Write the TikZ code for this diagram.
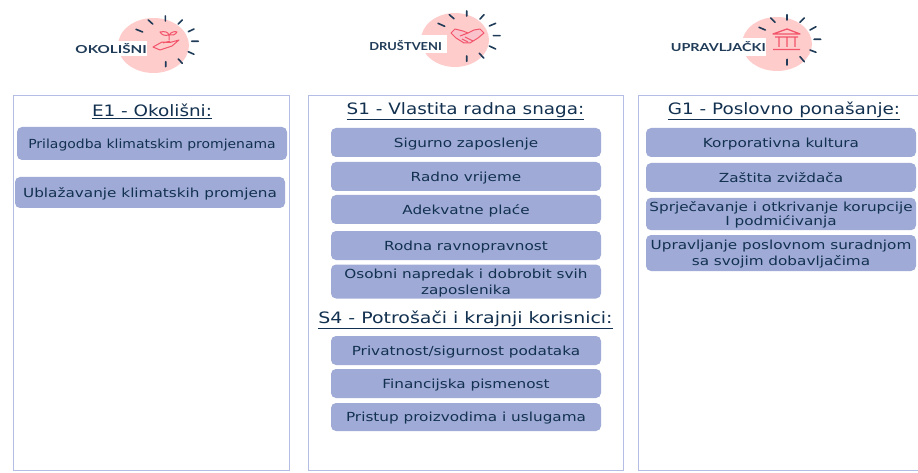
\documentclass[tikz,border=0pt]{standalone}
\usepackage{fontspec}
\setmainfont{DejaVu Sans}
\newfontfamily\itemf[FakeStretch=1.22]{DejaVu Sans}
\newfontfamily\headf[FakeStretch=1.17]{DejaVu Sans}
\newfontfamily\catf[FakeStretch=1.17]{Lato}
\usetikzlibrary{calc,shapes.geometric}
\definecolor{txt}{HTML}{12304F}
\definecolor{pill}{HTML}{9FABD6}
\definecolor{panelb}{HTML}{B4BEE4}
\definecolor{pinkc}{HTML}{FFCCCC}
\definecolor{iconr}{HTML}{F2546A}
\definecolor{tick}{HTML}{1F3B57}
\tikzset{
  x=1pt,y=-1pt,
  panel/.style={draw=panelb,line width=1pt,fill=white},
  item/.style={fill=pill,rounded corners=5pt,text=txt,font=\itemf\fontsize{12.5}{14}\selectfont,inner sep=0pt},
  head/.style={text=txt,font=\headf\fontsize{15.7}{18}\selectfont,inner sep=0pt},
  cat/.style={fill=white,text=tick,font=\catf\fontsize{11}{12}\selectfont\bfseries,inner sep=0pt,anchor=east},
  disc/.style={fill=pinkc,draw=none,ellipse,inner sep=0pt},
  ticks/.style={draw=tick,line width=1.6pt,line cap=round},
  ico/.style={draw=iconr,line width=1pt,line join=round,fill=none}
}
\newcommand{\itembox}[6]{% name x1 y1 x2 y2 text
  \node[item,minimum width=#4pt-#2pt,minimum height=#5pt-#3pt] (#1) at ({(#2+#4)/2},{(#3+#5)/2}) {\vbox{\kern4pt\hbox{\begin{tabular}{@{}c@{}}#6\end{tabular}}}};}
\begin{document}
\begin{tikzpicture}
\useasboundingbox (0,0) rectangle (918,473);
% category badges
\node[disc,minimum width=71pt,minimum height=55pt] (d1) at (153.5,45.5) {};
\draw[ticks] (136,29.3) -- (142.7,32) (148.3,20) -- (152.7,24) (165.3,16) -- (165.3,21) (182.3,20) -- (178.3,24) (194,29) -- (188.3,31.7) (191.7,41.3) -- (198.3,41.3) (188.3,51.7) -- (194,54.3) (178.3,59) -- (182.3,63.3) (165.7,61.7) -- (165.7,66.7);
\node[cat,minimum height=15pt] (c1) at (147,48.3) {\hspace{1pt}\scalebox{1.18}[1]{OKOLIŠNI}\hspace{11pt}};
\draw[ico] (153,47) -- (162,42) -- (170,42.5) -- (179,40) -- (172,46) -- (160,50) -- cycle (163,43) -- (170,41) (169,40) -- (169,35) (169,35) .. controls (164,36) and (162,35) .. (160,32) .. controls (165,31) and (168,32) .. (169,35) .. controls (171,32) and (175,31) .. (177,32) .. controls (175,35) and (172,36) .. (169,35);
\node[disc,minimum width=68pt,minimum height=54pt] (d2) at (455,40) {};
\draw[ticks] (438,23.3) -- (444.7,26.3) (449.3,14.7) -- (454,18.7) (466.7,11) -- (466.7,16) (484,14.7) -- (480,19) (495.7,23.3) -- (489.3,26) (493.3,35.7) -- (500,35.7) (489.3,46) -- (495.7,49) (479.3,53.3) -- (483.7,58) (466.7,56) -- (466.7,61.3);
\node[cat,minimum height=18pt] (c2) at (447,44) {\vbox{\kern4pt\hbox{\hspace{1pt}DRUŠTVENI\hspace{5pt}}}};
\draw[ico,fill=iconr!35] (451,33) -- (455,29) -- (463,31) -- (468,33) -- (474,30) -- (480,29) -- (484,33) -- (478,38) -- (470,43) -- (464,43) -- (456,38) -- cycle;
\draw[ico] (460,36) -- (468,33) (465,37) -- (473,41) (462,39) -- (468,42);
\node[disc,minimum width=70pt,minimum height=54pt] (d3) at (777,44) {};
\draw[ticks] (759,27.3) -- (765.3,30) (770.7,18) -- (775,22.3) (787,14.7) -- (787,20) (804.3,18) -- (800,22.3) (816,26.7) -- (810,30) (814,39.3) -- (820.7,39.3) (810,50) -- (816,52.3) (800,56.7) -- (804.3,61.7) (787,59.3) -- (787,65);
\node[cat,minimum height=18pt] (c3) at (766,46.8) {\hspace{1pt}\scalebox{1.12}[1]{UPRAVLJAČKI}\hspace{11pt}};
\draw[ico,line width=1.3pt] (773,34) -- (787,29) -- (800,34) -- cycle (775,37) -- (798,37) (779,38) -- (779,47) (787,38) -- (787,47) (795,38) -- (795,47) (773,49.5) -- (800,49.5);
% panels
\draw[panel] (13,96) rectangle (289,470) coordinate (p1);
\draw[panel] (308,96) rectangle (623,470) coordinate (p2);
\draw[panel] (638,96) rectangle (918,470) coordinate (p3);
% headings
\node[head] (h1) at (152,111) {\underline{E1 - Okolišni:}};
\node[head] (h2) at (465.5,111) {\underline{S1 - Vlastita radna snaga:}};
\node[head] (h3) at (784,111) {\underline{G1 - Poslovno ponašanje:}};
\node[head] (h4) at (465.5,320) {\scalebox{1.03}[1]{\underline{S4 - Potrošači i krajnji korisnici:}}};
% items
\itembox{a1}{17}{127}{287}{160}{\scalebox{0.915}[1]{Prilagodba klimatskim promjenama}}
\itembox{a2}{15}{177}{285}{208}{Ublažavanje klimatskih promjena}
\itembox{b1}{331}{128}{601}{157}{Sigurno zaposlenje}
\itembox{b2}{331}{162}{601}{191}{Radno vrijeme}
\itembox{b3}{331}{195}{601}{224}{Adekvatne plaće}
\itembox{b4}{331}{231}{601}{260}{Rodna ravnopravnost}
\itembox{b5}{331}{265}{601}{298}{Osobni napredak i dobrobit svih\\[2pt]zaposlenika}
\itembox{b6}{331}{336}{601}{365}{Privatnost/sigurnost podataka}
\itembox{b7}{331}{369}{601}{398}{Financijska pismenost}
\itembox{b8}{331}{403}{601}{431}{Pristup proizvodima i uslugama}
\itembox{c1i}{646}{128}{916}{157}{Korporativna kultura}
\itembox{c2i}{646}{163}{916}{192}{Zaštita zviždača}
\itembox{c3i}{646}{198}{916}{230}{Sprječavanje i otkrivanje korupcije\\I podmićivanja}
\itembox{c4i}{646}{235}{916}{271}{Upravljanje poslovnom suradnjom\\[2pt]sa svojim dobavljačima}
\end{tikzpicture}
\end{document}
